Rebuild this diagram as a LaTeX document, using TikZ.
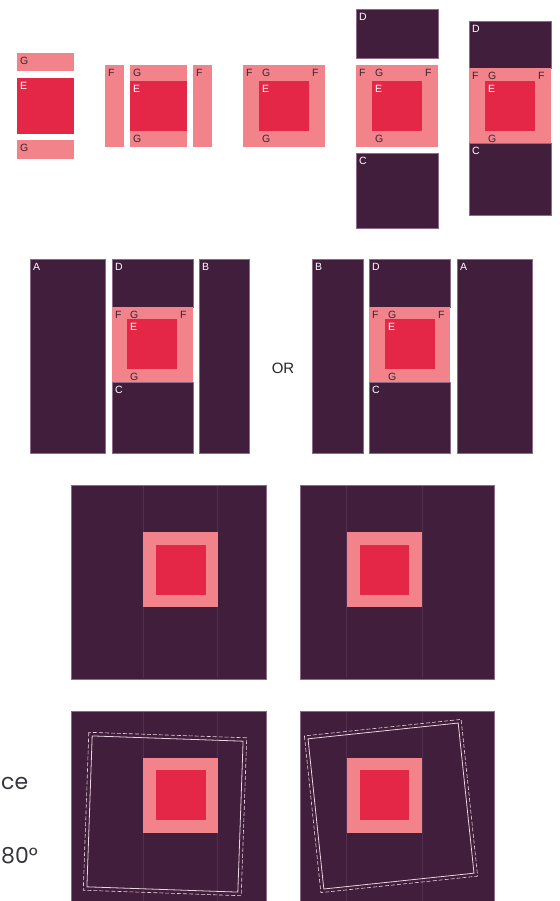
\documentclass[tikz,border=0pt]{standalone}
\usepackage{fontspec}
\setmainfont{Liberation Sans}
\newfontfamily\sidefont{Poppins}
\usepackage{tikz}
\definecolor{plumDeep}{HTML}{401E3C}
\definecolor{plumEdge}{HTML}{8C6A88}
\definecolor{plumSeam}{HTML}{52304D}
\definecolor{pinkSoft}{HTML}{F2838A}
\definecolor{redCore}{HTML}{E42747}
\definecolor{inkDark}{HTML}{3A2530}
\definecolor{inkGray}{HTML}{34343C}
\definecolor{outlineLight}{HTML}{EBD3DF}
\newcommand{\tagfont}{\fontsize{10.5}{11}\selectfont}
\tikzset{
  plumBox/.style={fill=plumDeep, draw=plumEdge, line width=0.5pt},
  pinkBox/.style={fill=pinkSoft},
  redBox/.style={fill=redCore},
  tagDark/.style={
    anchor=north west,
    inner sep=0pt,
    xshift=3pt,
    yshift=-4pt,
    font=\tagfont,
    text=inkDark
  },
  tagLight/.style={tagDark, text=white},
  seamLine/.style={plumSeam, line width=0.6pt},
  turnSolid/.style={draw=outlineLight, line width=0.8pt},
  turnDashed/.style={draw=outlineLight, line width=0.6pt, dash pattern=on 4pt off 2pt},
  sideNote/.style={font=\sidefont\fontsize{22}{24}\selectfont, text=inkGray, inner sep=0pt, anchor=base west}
}
% pink frame round the red core, with its F/G/E tags
\newcommand{\framedcore}[9]{%
  \fill[pinkBox] (#2,#3) rectangle (#4,#5);
  \fill[redBox] (#6,#7) rectangle (#8,#9);
  \node[tagDark] (#1Fl) at (#2,#3) {F};
  \node[tagDark] (#1Gt) at (#6,#3) {G};
  \node[tagDark] (#1Fr) at (#8,#3) {F};
  \node[tagLight] (#1E) at (#6,#7) {E};
  \node[tagDark] (#1Gb) at (#6,#9) {G};
}

\begin{document}
\begin{tikzpicture}[x=1pt,y=-1pt]
  \useasboundingbox (0,0) rectangle (559,901);

  % row 1: loose pieces
  \fill[pinkBox] (17,53) rectangle (74,71);
  \fill[redBox] (17,78) rectangle (74,134);
  \fill[pinkBox] (17,140) rectangle (74,159);
  \node[tagDark] (looseGt) at (17,53) {G};
  \node[tagLight] (looseE) at (17,78) {E};
  \node[tagDark] (looseGb) at (17,140) {G};

  % row 1: G strips joined, F strips beside
  \fill[pinkBox] (105,65) rectangle (124,147);
  \fill[pinkBox] (130,65) rectangle (187,147);
  \fill[redBox] (130,81) rectangle (187,131);
  \fill[pinkBox] (193,65) rectangle (212,147);
  \node[tagDark] (sideFl) at (105,65) {F};
  \node[tagDark] (sideGt) at (130,65) {G};
  \node[tagLight] (sideE) at (130,81) {E};
  \node[tagDark] (sideGb) at (130,131) {G};
  \node[tagDark] (sideFr) at (193,65) {F};

  % row 1: F strips joined
  \framedcore{core}{243}{65}{325}{147}{259}{81}{309}{131}

  % row 1: D and C apart
  \path[plumBox] (356,9) rectangle (438,58);
  \node[tagLight] (apartD) at (356,9) {D};
  \framedcore{apart}{356}{65}{438}{147}{372}{81}{422}{131}
  \path[plumBox] (356,153) rectangle (438,228);
  \node[tagLight] (apartC) at (356,153) {C};

  % row 1: D and C joined
  \path[plumBox] (469,21) rectangle (551,68);
  \node[tagLight] (joinD) at (469,21) {D};
  \path[plumBox] (469,143) rectangle (551,215);
  \node[tagLight] (joinC) at (469,143) {C};
  \framedcore{join}{469}{68}{551}{143}{485}{81}{535}{131}

  % row 2, left: A | D-core-C | B
  \path[plumBox] (30,259) rectangle (105,453);
  \node[tagLight] (leftA) at (30,259) {A};
  \path[plumBox] (112,259) rectangle (193,307);
  \node[tagLight] (leftD) at (112,259) {D};
  \path[plumBox] (112,382) rectangle (193,453);
  \node[tagLight] (leftC) at (112,382) {C};
  \framedcore{left}{112}{307}{193}{382}{127}{319}{177}{369}
  \path[plumBox] (199,259) rectangle (249,453);
  \node[tagLight] (leftB) at (199,259) {B};

  \node[font=\fontsize{15}{16}\selectfont, text=black!85] (orWord) at (283,368) {OR};

  % row 2, right: B | D-core-C | A
  \path[plumBox] (312,259) rectangle (363,453);
  \node[tagLight] (rightB) at (312,259) {B};
  \path[plumBox] (369,259) rectangle (450,307);
  \node[tagLight] (rightD) at (369,259) {D};
  \path[plumBox] (369,382) rectangle (450,453);
  \node[tagLight] (rightC) at (369,382) {C};
  \framedcore{right}{369}{307}{450}{382}{385}{319}{435}{369}
  \path[plumBox] (457,259) rectangle (532,453);
  \node[tagLight] (rightA) at (457,259) {A};

  % row 3: sewn blocks
  \path[plumBox] (71,485) rectangle (266,679);
  \foreach \sx in {143.3,217.7} \draw[seamLine] (\sx,486) -- (\sx,678);
  \fill[pinkBox] (143,532) rectangle (218,607);
  \fill[redBox] (156,545) rectangle (206,595);

  \path[plumBox] (300,485) rectangle (494,679);
  \foreach \sx in {346.7,422.7} \draw[seamLine] (\sx,486) -- (\sx,678);
  \fill[pinkBox] (347,532) rectangle (422,607);
  \fill[redBox] (360,545) rectangle (409,595);

  % row 4: blocks with tilted trim lines
  \path[plumBox] (71,711) rectangle (266,901);
  \foreach \sx in {143.3,217.7} \draw[seamLine] (\sx,712) -- (\sx,901);
  \fill[pinkBox] (143,758) rectangle (218,833);
  \fill[redBox] (156,770) rectangle (206,820);
  \draw[turnSolid, shift={(165,814)}, rotate=-2] (-75.5,-75.5) rectangle (75.5,75.5);
  \draw[turnDashed, shift={(165,814)}, rotate=-2] (-79,-79) rectangle (79,79);

  \path[plumBox] (300,711) rectangle (494,901);
  \foreach \sx in {346.7,422.7} \draw[seamLine] (\sx,712) -- (\sx,901);
  \fill[pinkBox] (347,758) rectangle (422,833);
  \fill[redBox] (360,770) rectangle (409,820);
  \draw[turnSolid, shift={(391,806)}, rotate=6] (-75.5,-75.5) rectangle (75.5,75.5);
  \draw[turnDashed, shift={(391,806)}, rotate=6] (-78.8,-78.8) rectangle (78.8,78.8);

  % notes at the left edge
  \node[sideNote] (noteCe) at (1,789) {ce};
  \node[sideNote] (noteDeg) at (1,863) {80°};
\end{tikzpicture}
\end{document}
